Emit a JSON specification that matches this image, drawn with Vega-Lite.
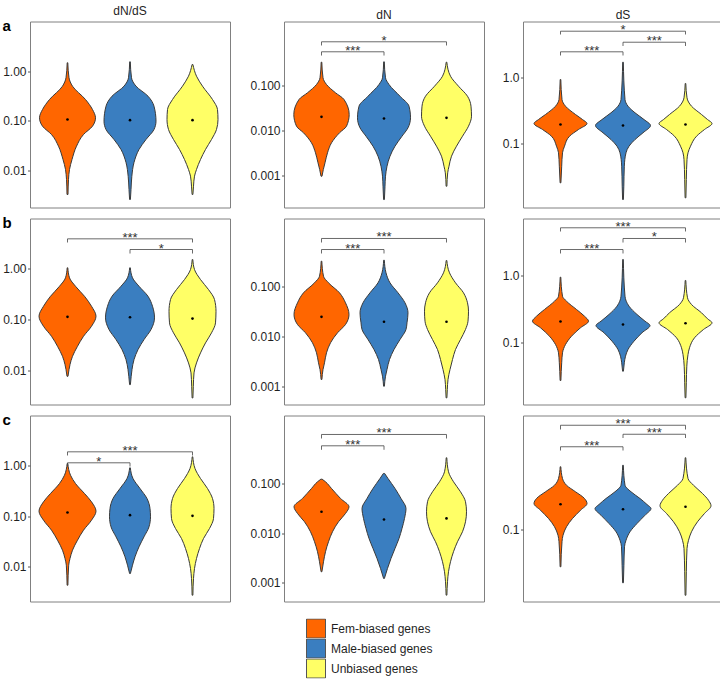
{
"$schema": "https://vega.github.io/schema/vega-lite/v6.json",
"padding": {"left": 1, "top": 4.5, "right": 0, "bottom": 2},
"config": {
  "font": "Liberation Sans",
  "view": {"stroke": "#808080", "strokeWidth": 1},
  "range": {"category": ["#FF6600", "#3A7EC0", "#FFFF66"]},
  "axis": {"grid": false, "domain": false, "labelFontSize": 12, "labelColor": "#1f1f1f", "tickColor": "#555555", "tickSize": 2.5, "tickWidth": 1, "labelPadding": 1.5},
  "title": {"fontSize": 12, "fontWeight": "normal", "color": "#1f1f1f", "offset": 0, "baseline": "alphabetic"},
  "legend": {"orient": "bottom", "direction": "vertical", "symbolType": "square", "symbolSize": 361, "symbolStrokeColor": "#555555", "symbolStrokeWidth": 1, "symbolOffset": 14, "labelFontSize": 12, "labelColor": "#1f1f1f", "labelOffset": 5, "rowPadding": 0, "clipHeight": 20, "offset": 16, "layout": {"bottom": {"anchor": "middle"}}}
},
"datasets": {
"violins": [
{"p":"a1","k":1,"g":"Fem-biased genes","v":1.479,"w":0.01},{"p":"a1","k":1,"g":"Fem-biased genes","v":0.736,"w":0.048},{"p":"a1","k":1,"g":"Fem-biased genes","v":0.498,"w":0.16},{"p":"a1","k":1,"g":"Fem-biased genes","v":0.268,"w":0.576},{"p":"a1","k":1,"g":"Fem-biased genes","v":0.168,"w":0.8},{"p":"a1","k":1,"g":"Fem-biased genes","v":0.1146,"w":0.896},{"p":"a1","k":1,"g":"Fem-biased genes","v":0.0774,"w":0.8},{"p":"a1","k":1,"g":"Fem-biased genes","v":0.0526,"w":0.512},{"p":"a1","k":1,"g":"Fem-biased genes","v":0.0305,"w":0.288},{"p":"a1","k":1,"g":"Fem-biased genes","v":0.01644,"w":0.144},{"p":"a1","k":1,"g":"Fem-biased genes","v":0.01033,"w":0.064},{"p":"a1","k":1,"g":"Fem-biased genes","v":0.00649,"w":0.032},{"p":"a1","k":1,"g":"Fem-biased genes","v":0.00323,"w":0.016},
{"p":"a1","k":2,"g":"Male-biased genes","v":1.549,"w":0.01},{"p":"a1","k":2,"g":"Male-biased genes","v":0.736,"w":0.048},{"p":"a1","k":2,"g":"Male-biased genes","v":0.498,"w":0.192},{"p":"a1","k":2,"g":"Male-biased genes","v":0.3126,"w":0.576},{"p":"a1","k":2,"g":"Male-biased genes","v":0.1963,"w":0.768},{"p":"a1","k":2,"g":"Male-biased genes","v":0.0977,"w":0.832},{"p":"a1","k":2,"g":"Male-biased genes","v":0.0664,"w":0.768},{"p":"a1","k":2,"g":"Male-biased genes","v":0.0417,"w":0.512},{"p":"a1","k":2,"g":"Male-biased genes","v":0.0262,"w":0.288},{"p":"a1","k":2,"g":"Male-biased genes","v":0.01432,"w":0.128},{"p":"a1","k":2,"g":"Male-biased genes","v":0.00746,"w":0.058},{"p":"a1","k":2,"g":"Male-biased genes","v":0.00407,"w":0.032},{"p":"a1","k":2,"g":"Male-biased genes","v":0.00256,"w":0.013},
{"p":"a1","k":3,"g":"Unbiased genes","v":1.365,"w":0.013},{"p":"a1","k":3,"g":"Unbiased genes","v":0.7925,"w":0.128},{"p":"a1","k":3,"g":"Unbiased genes","v":0.498,"w":0.32},{"p":"a1","k":3,"g":"Unbiased genes","v":0.268,"w":0.64},{"p":"a1","k":3,"g":"Unbiased genes","v":0.168,"w":0.8},{"p":"a1","k":3,"g":"Unbiased genes","v":0.1057,"w":0.816},{"p":"a1","k":3,"g":"Unbiased genes","v":0.0664,"w":0.768},{"p":"a1","k":3,"g":"Unbiased genes","v":0.0417,"w":0.608},{"p":"a1","k":3,"g":"Unbiased genes","v":0.0262,"w":0.416},{"p":"a1","k":3,"g":"Unbiased genes","v":0.01644,"w":0.256},{"p":"a1","k":3,"g":"Unbiased genes","v":0.01033,"w":0.128},{"p":"a1","k":3,"g":"Unbiased genes","v":0.00757,"w":0.064},{"p":"a1","k":3,"g":"Unbiased genes","v":0.00475,"w":0.032},{"p":"a1","k":3,"g":"Unbiased genes","v":0.00323,"w":0.013},

{"p":"a2","k":1,"g":"Fem-biased genes","v":0.3296,"w":0.01},{"p":"a2","k":1,"g":"Fem-biased genes","v":0.1483,"w":0.048},{"p":"a2","k":1,"g":"Fem-biased genes","v":0.1052,"w":0.16},{"p":"a2","k":1,"g":"Fem-biased genes","v":0.0689,"w":0.448},{"p":"a2","k":1,"g":"Fem-biased genes","v":0.0489,"w":0.72},{"p":"a2","k":1,"g":"Fem-biased genes","v":0.02265,"w":0.886},{"p":"a2","k":1,"g":"Fem-biased genes","v":0.01245,"w":0.8},{"p":"a2","k":1,"g":"Fem-biased genes","v":0.00889,"w":0.576},{"p":"a2","k":1,"g":"Fem-biased genes","v":0.00532,"w":0.32},{"p":"a2","k":1,"g":"Fem-biased genes","v":0.00319,"w":0.192},{"p":"a2","k":1,"g":"Fem-biased genes","v":0.001914,"w":0.112},{"p":"a2","k":1,"g":"Fem-biased genes","v":0.001358,"w":0.058},{"p":"a2","k":1,"g":"Fem-biased genes","v":0.000964,"w":0.016},
{"p":"a2","k":2,"g":"Male-biased genes","v":0.3357,"w":0.01},{"p":"a2","k":2,"g":"Male-biased genes","v":0.1483,"w":0.048},{"p":"a2","k":2,"g":"Male-biased genes","v":0.1052,"w":0.16},{"p":"a2","k":2,"g":"Male-biased genes","v":0.0578,"w":0.512},{"p":"a2","k":2,"g":"Male-biased genes","v":0.03467,"w":0.8},{"p":"a2","k":2,"g":"Male-biased genes","v":0.01914,"w":0.848},{"p":"a2","k":2,"g":"Male-biased genes","v":0.01148,"w":0.768},{"p":"a2","k":2,"g":"Male-biased genes","v":0.00746,"w":0.576},{"p":"a2","k":2,"g":"Male-biased genes","v":0.00448,"w":0.352},{"p":"a2","k":2,"g":"Male-biased genes","v":0.002685,"w":0.192},{"p":"a2","k":2,"g":"Male-biased genes","v":0.001607,"w":0.096},{"p":"a2","k":2,"g":"Male-biased genes","v":0.000964,"w":0.048},{"p":"a2","k":2,"g":"Male-biased genes","v":0.000578,"w":0.032},{"p":"a2","k":2,"g":"Male-biased genes","v":0.0002924,"w":0.013},
{"p":"a2","k":3,"g":"Unbiased genes","v":0.3296,"w":0.01},{"p":"a2","k":3,"g":"Unbiased genes","v":0.1607,"w":0.128},{"p":"a2","k":3,"g":"Unbiased genes","v":0.0964,"w":0.384},{"p":"a2","k":3,"g":"Unbiased genes","v":0.0578,"w":0.672},{"p":"a2","k":3,"g":"Unbiased genes","v":0.03467,"w":0.784},{"p":"a2","k":3,"g":"Unbiased genes","v":0.0208,"w":0.8},{"p":"a2","k":3,"g":"Unbiased genes","v":0.01245,"w":0.704},{"p":"a2","k":3,"g":"Unbiased genes","v":0.00746,"w":0.512},{"p":"a2","k":3,"g":"Unbiased genes","v":0.00448,"w":0.32},{"p":"a2","k":3,"g":"Unbiased genes","v":0.002685,"w":0.16},{"p":"a2","k":3,"g":"Unbiased genes","v":0.001607,"w":0.08},{"p":"a2","k":3,"g":"Unbiased genes","v":0.001148,"w":0.038},{"p":"a2","k":3,"g":"Unbiased genes","v":0.000578,"w":0.013},

{"p":"a3","k":1,"g":"Fem-biased genes","v":0.942,"w":0.01},{"p":"a3","k":1,"g":"Fem-biased genes","v":0.4688,"w":0.048},{"p":"a3","k":1,"g":"Fem-biased genes","v":0.3715,"w":0.16},{"p":"a3","k":1,"g":"Fem-biased genes","v":0.278,"w":0.48},{"p":"a3","k":1,"g":"Fem-biased genes","v":0.2333,"w":0.704},{"p":"a3","k":1,"g":"Fem-biased genes","v":0.2032,"w":0.848},{"p":"a3","k":1,"g":"Fem-biased genes","v":0.1648,"w":0.576},{"p":"a3","k":1,"g":"Fem-biased genes","v":0.1303,"w":0.288},{"p":"a3","k":1,"g":"Fem-biased genes","v":0.092,"w":0.128},{"p":"a3","k":1,"g":"Fem-biased genes","v":0.0731,"w":0.064},{"p":"a3","k":1,"g":"Fem-biased genes","v":0.0458,"w":0.038},{"p":"a3","k":1,"g":"Fem-biased genes","v":0.02564,"w":0.013},
{"p":"a3","k":2,"g":"Male-biased genes","v":1.722,"w":0.01},{"p":"a3","k":2,"g":"Male-biased genes","v":0.4688,"w":0.064},{"p":"a3","k":2,"g":"Male-biased genes","v":0.3715,"w":0.16},{"p":"a3","k":2,"g":"Male-biased genes","v":0.2951,"w":0.384},{"p":"a3","k":2,"g":"Male-biased genes","v":0.2333,"w":0.672},{"p":"a3","k":2,"g":"Male-biased genes","v":0.1892,"w":0.88},{"p":"a3","k":2,"g":"Male-biased genes","v":0.1469,"w":0.64},{"p":"a3","k":2,"g":"Male-biased genes","v":0.1161,"w":0.384},{"p":"a3","k":2,"g":"Male-biased genes","v":0.092,"w":0.192},{"p":"a3","k":2,"g":"Male-biased genes","v":0.0731,"w":0.096},{"p":"a3","k":2,"g":"Male-biased genes","v":0.0458,"w":0.042},{"p":"a3","k":2,"g":"Male-biased genes","v":0.0228,"w":0.026},{"p":"a3","k":2,"g":"Male-biased genes","v":0.01432,"w":0.013},
{"p":"a3","k":3,"g":"Unbiased genes","v":0.8204,"w":0.01},{"p":"a3","k":3,"g":"Unbiased genes","v":0.4977,"w":0.048},{"p":"a3","k":3,"g":"Unbiased genes","v":0.3715,"w":0.192},{"p":"a3","k":3,"g":"Unbiased genes","v":0.278,"w":0.512},{"p":"a3","k":3,"g":"Unbiased genes","v":0.2333,"w":0.704},{"p":"a3","k":3,"g":"Unbiased genes","v":0.2032,"w":0.848},{"p":"a3","k":3,"g":"Unbiased genes","v":0.1648,"w":0.608},{"p":"a3","k":3,"g":"Unbiased genes","v":0.1303,"w":0.352},{"p":"a3","k":3,"g":"Unbiased genes","v":0.092,"w":0.16},{"p":"a3","k":3,"g":"Unbiased genes","v":0.0731,"w":0.08},{"p":"a3","k":3,"g":"Unbiased genes","v":0.0578,"w":0.048},{"p":"a3","k":3,"g":"Unbiased genes","v":0.02877,"w":0.026},{"p":"a3","k":3,"g":"Unbiased genes","v":0.0152,"w":0.013},

{"p":"b1","k":1,"g":"Fem-biased genes","v":1.033,"w":0.01},{"p":"b1","k":1,"g":"Fem-biased genes","v":0.656,"w":0.064},{"p":"b1","k":1,"g":"Fem-biased genes","v":0.4477,"w":0.256},{"p":"b1","k":1,"g":"Fem-biased genes","v":0.2844,"w":0.544},{"p":"b1","k":1,"g":"Fem-biased genes","v":0.1811,"w":0.768},{"p":"b1","k":1,"g":"Fem-biased genes","v":0.1151,"w":0.912},{"p":"b1","k":1,"g":"Fem-biased genes","v":0.0731,"w":0.768},{"p":"b1","k":1,"g":"Fem-biased genes","v":0.04645,"w":0.512},{"p":"b1","k":1,"g":"Fem-biased genes","v":0.02951,"w":0.32},{"p":"b1","k":1,"g":"Fem-biased genes","v":0.01875,"w":0.16},{"p":"b1","k":1,"g":"Fem-biased genes","v":0.01288,"w":0.08},{"p":"b1","k":1,"g":"Fem-biased genes","v":0.01028,"w":0.048},{"p":"b1","k":1,"g":"Fem-biased genes","v":0.00759,"w":0.016},
{"p":"b1","k":2,"g":"Male-biased genes","v":1.033,"w":0.01},{"p":"b1","k":2,"g":"Male-biased genes","v":0.656,"w":0.08},{"p":"b1","k":2,"g":"Male-biased genes","v":0.4477,"w":0.288},{"p":"b1","k":2,"g":"Male-biased genes","v":0.2844,"w":0.576},{"p":"b1","k":2,"g":"Male-biased genes","v":0.1811,"w":0.72},{"p":"b1","k":2,"g":"Male-biased genes","v":0.1069,"w":0.784},{"p":"b1","k":2,"g":"Male-biased genes","v":0.063,"w":0.672},{"p":"b1","k":2,"g":"Male-biased genes","v":0.04,"w":0.448},{"p":"b1","k":2,"g":"Male-biased genes","v":0.02541,"w":0.256},{"p":"b1","k":2,"g":"Male-biased genes","v":0.01614,"w":0.128},{"p":"b1","k":2,"g":"Male-biased genes","v":0.01028,"w":0.064},{"p":"b1","k":2,"g":"Male-biased genes","v":0.00759,"w":0.038},{"p":"b1","k":2,"g":"Male-biased genes","v":0.0052,"w":0.013},
{"p":"b1","k":3,"g":"Unbiased genes","v":1.503,"w":0.01},{"p":"b1","k":3,"g":"Unbiased genes","v":0.955,"w":0.064},{"p":"b1","k":3,"g":"Unbiased genes","v":0.6067,"w":0.256},{"p":"b1","k":3,"g":"Unbiased genes","v":0.3855,"w":0.512},{"p":"b1","k":3,"g":"Unbiased genes","v":0.2455,"w":0.704},{"p":"b1","k":3,"g":"Unbiased genes","v":0.1442,"w":0.752},{"p":"b1","k":3,"g":"Unbiased genes","v":0.0853,"w":0.736},{"p":"b1","k":3,"g":"Unbiased genes","v":0.0542,"w":0.608},{"p":"b1","k":3,"g":"Unbiased genes","v":0.03443,"w":0.416},{"p":"b1","k":3,"g":"Unbiased genes","v":0.02188,"w":0.256},{"p":"b1","k":3,"g":"Unbiased genes","v":0.0139,"w":0.128},{"p":"b1","k":3,"g":"Unbiased genes","v":0.00885,"w":0.048},{"p":"b1","k":3,"g":"Unbiased genes","v":0.00482,"w":0.026},{"p":"b1","k":3,"g":"Unbiased genes","v":0.002844,"w":0.013},

{"p":"b2","k":1,"g":"Fem-biased genes","v":0.3273,"w":0.01},{"p":"b2","k":1,"g":"Fem-biased genes","v":0.1633,"w":0.064},{"p":"b2","k":1,"g":"Fem-biased genes","v":0.1202,"w":0.224},{"p":"b2","k":1,"g":"Fem-biased genes","v":0.0757,"w":0.576},{"p":"b2","k":1,"g":"Fem-biased genes","v":0.04764,"w":0.768},{"p":"b2","k":1,"g":"Fem-biased genes","v":0.02767,"w":0.88},{"p":"b2","k":1,"g":"Fem-biased genes","v":0.01742,"w":0.768},{"p":"b2","k":1,"g":"Fem-biased genes","v":0.01186,"w":0.512},{"p":"b2","k":1,"g":"Fem-biased genes","v":0.00746,"w":0.288},{"p":"b2","k":1,"g":"Fem-biased genes","v":0.0047,"w":0.16},{"p":"b2","k":1,"g":"Fem-biased genes","v":0.002958,"w":0.096},{"p":"b2","k":1,"g":"Fem-biased genes","v":0.002168,"w":0.048},{"p":"b2","k":1,"g":"Fem-biased genes","v":0.001365,"w":0.013},
{"p":"b2","k":2,"g":"Male-biased genes","v":0.3428,"w":0.01},{"p":"b2","k":2,"g":"Male-biased genes","v":0.191,"w":0.064},{"p":"b2","k":2,"g":"Male-biased genes","v":0.1202,"w":0.192},{"p":"b2","k":2,"g":"Male-biased genes","v":0.0757,"w":0.448},{"p":"b2","k":2,"g":"Male-biased genes","v":0.04764,"w":0.672},{"p":"b2","k":2,"g":"Male-biased genes","v":0.03,"w":0.768},{"p":"b2","k":2,"g":"Male-biased genes","v":0.01884,"w":0.736},{"p":"b2","k":2,"g":"Male-biased genes","v":0.01384,"w":0.704},{"p":"b2","k":2,"g":"Male-biased genes","v":0.00869,"w":0.512},{"p":"b2","k":2,"g":"Male-biased genes","v":0.00547,"w":0.32},{"p":"b2","k":2,"g":"Male-biased genes","v":0.003443,"w":0.176},{"p":"b2","k":2,"g":"Male-biased genes","v":0.002168,"w":0.096},{"p":"b2","k":2,"g":"Male-biased genes","v":0.001589,"w":0.048},{"p":"b2","k":2,"g":"Male-biased genes","v":0.001,"w":0.013},
{"p":"b2","k":3,"g":"Unbiased genes","v":0.3381,"w":0.01},{"p":"b2","k":3,"g":"Unbiased genes","v":0.191,"w":0.096},{"p":"b2","k":3,"g":"Unbiased genes","v":0.1202,"w":0.288},{"p":"b2","k":3,"g":"Unbiased genes","v":0.0757,"w":0.544},{"p":"b2","k":3,"g":"Unbiased genes","v":0.04764,"w":0.672},{"p":"b2","k":3,"g":"Unbiased genes","v":0.03228,"w":0.704},{"p":"b2","k":3,"g":"Unbiased genes","v":0.02032,"w":0.688},{"p":"b2","k":3,"g":"Unbiased genes","v":0.01384,"w":0.608},{"p":"b2","k":3,"g":"Unbiased genes","v":0.00869,"w":0.448},{"p":"b2","k":3,"g":"Unbiased genes","v":0.00547,"w":0.288},{"p":"b2","k":3,"g":"Unbiased genes","v":0.003443,"w":0.192},{"p":"b2","k":3,"g":"Unbiased genes","v":0.002168,"w":0.112},{"p":"b2","k":3,"g":"Unbiased genes","v":0.001365,"w":0.048},{"p":"b2","k":3,"g":"Unbiased genes","v":0.000857,"w":0.026},{"p":"b2","k":3,"g":"Unbiased genes","v":0.000583,"w":0.013},

{"p":"b3","k":1,"g":"Fem-biased genes","v":0.9441,"w":0.01},{"p":"b3","k":1,"g":"Fem-biased genes","v":0.492,"w":0.064},{"p":"b3","k":1,"g":"Fem-biased genes","v":0.415,"w":0.192},{"p":"b3","k":1,"g":"Fem-biased genes","v":0.3126,"w":0.512},{"p":"b3","k":1,"g":"Fem-biased genes","v":0.2483,"w":0.768},{"p":"b3","k":1,"g":"Fem-biased genes","v":0.2094,"w":0.896},{"p":"b3","k":1,"g":"Fem-biased genes","v":0.1671,"w":0.64},{"p":"b3","k":1,"g":"Fem-biased genes","v":0.1253,"w":0.352},{"p":"b3","k":1,"g":"Fem-biased genes","v":0.0944,"w":0.16},{"p":"b3","k":1,"g":"Fem-biased genes","v":0.071,"w":0.064},{"p":"b3","k":1,"g":"Fem-biased genes","v":0.0505,"w":0.038},{"p":"b3","k":1,"g":"Fem-biased genes","v":0.02754,"w":0.013},
{"p":"b3","k":2,"g":"Male-biased genes","v":1.73,"w":0.01},{"p":"b3","k":2,"g":"Male-biased genes","v":0.492,"w":0.064},{"p":"b3","k":2,"g":"Male-biased genes","v":0.35,"w":0.192},{"p":"b3","k":2,"g":"Male-biased genes","v":0.2636,"w":0.448},{"p":"b3","k":2,"g":"Male-biased genes","v":0.2094,"w":0.704},{"p":"b3","k":2,"g":"Male-biased genes","v":0.1807,"w":0.864},{"p":"b3","k":2,"g":"Male-biased genes","v":0.141,"w":0.608},{"p":"b3","k":2,"g":"Male-biased genes","v":0.1057,"w":0.352},{"p":"b3","k":2,"g":"Male-biased genes","v":0.0794,"w":0.16},{"p":"b3","k":2,"g":"Male-biased genes","v":0.0632,"w":0.08},{"p":"b3","k":2,"g":"Male-biased genes","v":0.0505,"w":0.042},{"p":"b3","k":2,"g":"Male-biased genes","v":0.03784,"w":0.013},
{"p":"b3","k":3,"g":"Unbiased genes","v":0.8433,"w":0.01},{"p":"b3","k":3,"g":"Unbiased genes","v":0.4667,"w":0.064},{"p":"b3","k":3,"g":"Unbiased genes","v":0.3707,"w":0.192},{"p":"b3","k":3,"g":"Unbiased genes","v":0.2793,"w":0.512},{"p":"b3","k":3,"g":"Unbiased genes","v":0.2275,"w":0.704},{"p":"b3","k":3,"g":"Unbiased genes","v":0.1982,"w":0.848},{"p":"b3","k":3,"g":"Unbiased genes","v":0.1578,"w":0.576},{"p":"b3","k":3,"g":"Unbiased genes","v":0.1186,"w":0.288},{"p":"b3","k":3,"g":"Unbiased genes","v":0.0843,"w":0.128},{"p":"b3","k":3,"g":"Unbiased genes","v":0.067,"w":0.08},{"p":"b3","k":3,"g":"Unbiased genes","v":0.04487,"w":0.042},{"p":"b3","k":3,"g":"Unbiased genes","v":0.02547,"w":0.026},{"p":"b3","k":3,"g":"Unbiased genes","v":0.01524,"w":0.013},

{"p":"c1","k":1,"g":"Fem-biased genes","v":1.112,"w":0.01},{"p":"c1","k":1,"g":"Fem-biased genes","v":0.6516,"w":0.096},{"p":"c1","k":1,"g":"Fem-biased genes","v":0.4457,"w":0.256},{"p":"c1","k":1,"g":"Fem-biased genes","v":0.2825,"w":0.544},{"p":"c1","k":1,"g":"Fem-biased genes","v":0.1936,"w":0.768},{"p":"c1","k":1,"g":"Fem-biased genes","v":0.1262,"w":0.912},{"p":"c1","k":1,"g":"Fem-biased genes","v":0.08375,"w":0.768},{"p":"c1","k":1,"g":"Fem-biased genes","v":0.05309,"w":0.512},{"p":"c1","k":1,"g":"Fem-biased genes","v":0.03365,"w":0.32},{"p":"c1","k":1,"g":"Fem-biased genes","v":0.02133,"w":0.16},{"p":"c1","k":1,"g":"Fem-biased genes","v":0.01459,"w":0.08},{"p":"c1","k":1,"g":"Fem-biased genes","v":0.01076,"w":0.038},{"p":"c1","k":1,"g":"Fem-biased genes","v":0.004325,"w":0.013},
{"p":"c1","k":2,"g":"Male-biased genes","v":0.912,"w":0.01},{"p":"c1","k":2,"g":"Male-biased genes","v":0.5598,"w":0.096},{"p":"c1","k":2,"g":"Male-biased genes","v":0.3548,"w":0.32},{"p":"c1","k":2,"g":"Male-biased genes","v":0.2249,"w":0.544},{"p":"c1","k":2,"g":"Male-biased genes","v":0.1426,"w":0.64},{"p":"c1","k":2,"g":"Male-biased genes","v":0.0977,"w":0.656},{"p":"c1","k":2,"g":"Male-biased genes","v":0.06194,"w":0.608},{"p":"c1","k":2,"g":"Male-biased genes","v":0.03926,"w":0.448},{"p":"c1","k":2,"g":"Male-biased genes","v":0.02489,"w":0.288},{"p":"c1","k":2,"g":"Male-biased genes","v":0.01578,"w":0.16},{"p":"c1","k":2,"g":"Male-biased genes","v":0.01076,"w":0.08},{"p":"c1","k":2,"g":"Male-biased genes","v":0.007362,"w":0.013},
{"p":"c1","k":3,"g":"Unbiased genes","v":1.507,"w":0.01},{"p":"c1","k":3,"g":"Unbiased genes","v":0.8831,"w":0.08},{"p":"c1","k":3,"g":"Unbiased genes","v":0.5598,"w":0.256},{"p":"c1","k":3,"g":"Unbiased genes","v":0.3548,"w":0.48},{"p":"c1","k":3,"g":"Unbiased genes","v":0.2249,"w":0.64},{"p":"c1","k":3,"g":"Unbiased genes","v":0.1426,"w":0.688},{"p":"c1","k":3,"g":"Unbiased genes","v":0.09036,"w":0.672},{"p":"c1","k":3,"g":"Unbiased genes","v":0.05728,"w":0.544},{"p":"c1","k":3,"g":"Unbiased genes","v":0.03631,"w":0.352},{"p":"c1","k":3,"g":"Unbiased genes","v":0.02301,"w":0.224},{"p":"c1","k":3,"g":"Unbiased genes","v":0.01459,"w":0.128},{"p":"c1","k":3,"g":"Unbiased genes","v":0.009247,"w":0.064},{"p":"c1","k":3,"g":"Unbiased genes","v":0.005861,"w":0.032},{"p":"c1","k":3,"g":"Unbiased genes","v":0.002742,"w":0.013},

{"p":"c2","k":1,"g":"Fem-biased genes","v":0.1219,"w":0.02},{"p":"c2","k":1,"g":"Fem-biased genes","v":0.1081,"w":0.128},{"p":"c2","k":1,"g":"Fem-biased genes","v":0.07925,"w":0.32},{"p":"c2","k":1,"g":"Fem-biased genes","v":0.04989,"w":0.608},{"p":"c2","k":1,"g":"Fem-biased genes","v":0.03396,"w":0.88},{"p":"c2","k":1,"g":"Fem-biased genes","v":0.02489,"w":0.768},{"p":"c2","k":1,"g":"Fem-biased genes","v":0.01694,"w":0.544},{"p":"c2","k":1,"g":"Fem-biased genes","v":0.01067,"w":0.352},{"p":"c2","k":1,"g":"Fem-biased genes","v":0.006714,"w":0.224},{"p":"c2","k":1,"g":"Fem-biased genes","v":0.004227,"w":0.128},{"p":"c2","k":1,"g":"Fem-biased genes","v":0.002655,"w":0.064},{"p":"c2","k":1,"g":"Fem-biased genes","v":0.001671,"w":0.013},
{"p":"c2","k":2,"g":"Male-biased genes","v":0.1589,"w":0.02},{"p":"c2","k":2,"g":"Male-biased genes","v":0.1259,"w":0.128},{"p":"c2","k":2,"g":"Male-biased genes","v":0.07925,"w":0.352},{"p":"c2","k":2,"g":"Male-biased genes","v":0.04989,"w":0.544},{"p":"c2","k":2,"g":"Male-biased genes","v":0.03141,"w":0.704},{"p":"c2","k":2,"g":"Male-biased genes","v":0.01977,"w":0.656},{"p":"c2","k":2,"g":"Male-biased genes","v":0.01242,"w":0.576},{"p":"c2","k":2,"g":"Male-biased genes","v":0.007816,"w":0.48},{"p":"c2","k":2,"g":"Male-biased genes","v":0.00492,"w":0.352},{"p":"c2","k":2,"g":"Male-biased genes","v":0.003097,"w":0.224},{"p":"c2","k":2,"g":"Male-biased genes","v":0.00195,"w":0.112},{"p":"c2","k":2,"g":"Male-biased genes","v":0.001225,"w":0.013},
{"p":"c2","k":3,"g":"Unbiased genes","v":0.3289,"w":0.01},{"p":"c2","k":3,"g":"Unbiased genes","v":0.1718,"w":0.064},{"p":"c2","k":3,"g":"Unbiased genes","v":0.1081,"w":0.224},{"p":"c2","k":3,"g":"Unbiased genes","v":0.06808,"w":0.448},{"p":"c2","k":3,"g":"Unbiased genes","v":0.04285,"w":0.608},{"p":"c2","k":3,"g":"Unbiased genes","v":0.02692,"w":0.64},{"p":"c2","k":3,"g":"Unbiased genes","v":0.01694,"w":0.608},{"p":"c2","k":3,"g":"Unbiased genes","v":0.01067,"w":0.512},{"p":"c2","k":3,"g":"Unbiased genes","v":0.006714,"w":0.352},{"p":"c2","k":3,"g":"Unbiased genes","v":0.004227,"w":0.224},{"p":"c2","k":3,"g":"Unbiased genes","v":0.002655,"w":0.128},{"p":"c2","k":3,"g":"Unbiased genes","v":0.001671,"w":0.064},{"p":"c2","k":3,"g":"Unbiased genes","v":0.001052,"w":0.032},{"p":"c2","k":3,"g":"Unbiased genes","v":0.000565,"w":0.013},

{"p":"c3","k":1,"g":"Fem-biased genes","v":0.3177,"w":0.01},{"p":"c3","k":1,"g":"Fem-biased genes","v":0.2559,"w":0.064},{"p":"c3","k":1,"g":"Fem-biased genes","v":0.2259,"w":0.192},{"p":"c3","k":1,"g":"Fem-biased genes","v":0.2004,"w":0.48},{"p":"c3","k":1,"g":"Fem-biased genes","v":0.177,"w":0.768},{"p":"c3","k":1,"g":"Fem-biased genes","v":0.1614,"w":0.848},{"p":"c3","k":1,"g":"Fem-biased genes","v":0.1426,"w":0.64},{"p":"c3","k":1,"g":"Fem-biased genes","v":0.1225,"w":0.384},{"p":"c3","k":1,"g":"Fem-biased genes","v":0.1052,"w":0.192},{"p":"c3","k":1,"g":"Fem-biased genes","v":0.08995,"w":0.08},{"p":"c3","k":1,"g":"Fem-biased genes","v":0.0798,"w":0.048},{"p":"c3","k":1,"g":"Fem-biased genes","v":0.05035,"w":0.013},
{"p":"c3","k":2,"g":"Male-biased genes","v":0.3266,"w":0.01},{"p":"c3","k":2,"g":"Male-biased genes","v":0.2259,"w":0.064},{"p":"c3","k":2,"g":"Male-biased genes","v":0.2004,"w":0.256},{"p":"c3","k":2,"g":"Male-biased genes","v":0.177,"w":0.544},{"p":"c3","k":2,"g":"Male-biased genes","v":0.1585,"w":0.768},{"p":"c3","k":2,"g":"Male-biased genes","v":0.1472,"w":0.896},{"p":"c3","k":2,"g":"Male-biased genes","v":0.13,"w":0.704},{"p":"c3","k":2,"g":"Male-biased genes","v":0.1117,"w":0.448},{"p":"c3","k":2,"g":"Male-biased genes","v":0.09594,"w":0.224},{"p":"c3","k":2,"g":"Male-biased genes","v":0.08204,"w":0.096},{"p":"c3","k":2,"g":"Male-biased genes","v":0.07278,"w":0.048},{"p":"c3","k":2,"g":"Male-biased genes","v":0.05176,"w":0.029},{"p":"c3","k":2,"g":"Male-biased genes","v":0.0375,"w":0.013},
{"p":"c3","k":3,"g":"Unbiased genes","v":0.375,"w":0.01},{"p":"c3","k":3,"g":"Unbiased genes","v":0.2559,"w":0.08},{"p":"c3","k":3,"g":"Unbiased genes","v":0.2259,"w":0.256},{"p":"c3","k":3,"g":"Unbiased genes","v":0.1941,"w":0.544},{"p":"c3","k":3,"g":"Unbiased genes","v":0.1714,"w":0.736},{"p":"c3","k":3,"g":"Unbiased genes","v":0.1549,"w":0.816},{"p":"c3","k":3,"g":"Unbiased genes","v":0.1343,"w":0.608},{"p":"c3","k":3,"g":"Unbiased genes","v":0.1153,"w":0.384},{"p":"c3","k":3,"g":"Unbiased genes","v":0.09594,"w":0.192},{"p":"c3","k":3,"g":"Unbiased genes","v":0.08204,"w":0.096},{"p":"c3","k":3,"g":"Unbiased genes","v":0.07047,"w":0.048},{"p":"c3","k":3,"g":"Unbiased genes","v":0.04592,"w":0.026},{"p":"c3","k":3,"g":"Unbiased genes","v":0.02979,"w":0.013}
],
"medians": [
{"p":"a1","k":1,"v":0.1057},{"p":"a1","k":2,"v":0.1023},{"p":"a1","k":3,"v":0.1023},
{"p":"a2","k":1,"v":0.02014},{"p":"a2","k":2,"v":0.01845},{"p":"a2","k":3,"v":0.01914},
{"p":"a3","k":1,"v":0.1959},{"p":"a3","k":2,"v":0.1892},{"p":"a3","k":3,"v":0.1959},
{"p":"b1","k":1,"v":0.1119},{"p":"b1","k":2,"v":0.1099},{"p":"b1","k":3,"v":0.1035},
{"p":"b2","k":1,"v":0.02489},{"p":"b2","k":2,"v":0.01977},{"p":"b2","k":3,"v":0.01977},
{"p":"b3","k":1,"v":0.2075},{"p":"b3","k":2,"v":0.1871},{"p":"b3","k":3,"v":0.1954},
{"p":"c1","k":1,"v":0.1189},{"p":"c1","k":2,"v":0.1052},{"p":"c1","k":3,"v":0.1023},
{"p":"c2","k":1,"v":0.02692},{"p":"c2","k":2,"v":0.01884},{"p":"c2","k":3,"v":0.01977},
{"p":"c3","k":1,"v":0.1592},{"p":"c3","k":2,"v":0.1452},{"p":"c3","k":3,"v":0.1521}
],
"brackets": [
{"p":"a2","b":1,"o":1,"x":1,"v":0.7745},{"p":"a2","b":1,"o":2,"x":1,"v":0.9354},{"p":"a2","b":1,"o":3,"x":3,"v":0.9354},{"p":"a2","b":1,"o":4,"x":3,"v":0.7745},
{"p":"a2","b":2,"o":1,"x":1,"v":0.4634},{"p":"a2","b":2,"o":2,"x":1,"v":0.561},{"p":"a2","b":2,"o":3,"x":2,"v":0.561},{"p":"a2","b":2,"o":4,"x":2,"v":0.4634},
{"p":"a3","b":1,"o":1,"x":1,"v":4.529},{"p":"a3","b":1,"o":2,"x":1,"v":5.08},{"p":"a3","b":1,"o":3,"x":3,"v":5.08},{"p":"a3","b":1,"o":4,"x":3,"v":4.529},
{"p":"a3","b":2,"o":1,"x":2,"v":3.034},{"p":"a3","b":2,"o":2,"x":2,"v":3.459},{"p":"a3","b":2,"o":3,"x":3,"v":3.459},{"p":"a3","b":2,"o":4,"x":3,"v":3.034},
{"p":"a3","b":3,"o":1,"x":1,"v":2.178},{"p":"a3","b":3,"o":2,"x":1,"v":2.477},{"p":"a3","b":3,"o":3,"x":2,"v":2.477},{"p":"a3","b":3,"o":4,"x":2,"v":2.178},
{"p":"b1","b":1,"o":1,"x":1,"v":3.251},{"p":"b1","b":1,"o":2,"x":1,"v":3.837},{"p":"b1","b":1,"o":3,"x":3,"v":3.837},{"p":"b1","b":1,"o":4,"x":3,"v":3.251},
{"p":"b1","b":2,"o":1,"x":2,"v":1.972},{"p":"b1","b":2,"o":2,"x":2,"v":2.366},{"p":"b1","b":2,"o":3,"x":3,"v":2.366},{"p":"b1","b":2,"o":4,"x":3,"v":1.972},
{"p":"b2","b":1,"o":1,"x":1,"v":0.778},{"p":"b2","b":1,"o":2,"x":1,"v":0.9376},{"p":"b2","b":1,"o":3,"x":3,"v":0.9376},{"p":"b2","b":1,"o":4,"x":3,"v":0.778},
{"p":"b2","b":2,"o":1,"x":1,"v":0.4677},{"p":"b2","b":2,"o":2,"x":1,"v":0.5623},{"p":"b2","b":2,"o":3,"x":2,"v":0.5623},{"p":"b2","b":2,"o":4,"x":2,"v":0.4677},
{"p":"b3","b":1,"o":1,"x":1,"v":4.508},{"p":"b3","b":1,"o":2,"x":1,"v":5.117},{"p":"b3","b":1,"o":3,"x":3,"v":5.117},{"p":"b3","b":1,"o":4,"x":3,"v":4.508},
{"p":"b3","b":2,"o":1,"x":2,"v":3.09},{"p":"b3","b":2,"o":2,"x":2,"v":3.548},{"p":"b3","b":2,"o":3,"x":3,"v":3.548},{"p":"b3","b":2,"o":4,"x":3,"v":3.09},
{"p":"b3","b":3,"o":1,"x":1,"v":2.123},{"p":"b3","b":3,"o":2,"x":1,"v":2.432},{"p":"b3","b":3,"o":3,"x":2,"v":2.432},{"p":"b3","b":3,"o":4,"x":2,"v":2.123},
{"p":"c1","b":1,"o":1,"x":1,"v":1.6},{"p":"c1","b":1,"o":2,"x":1,"v":1.892},{"p":"c1","b":1,"o":3,"x":3,"v":1.892},{"p":"c1","b":1,"o":4,"x":3,"v":1.6},
{"p":"c1","b":2,"o":1,"x":1,"v":0.9683},{"p":"c1","b":2,"o":2,"x":1,"v":1.146},{"p":"c1","b":2,"o":3,"x":2,"v":1.146},{"p":"c1","b":2,"o":4,"x":2,"v":0.9683},
{"p":"c2","b":1,"o":1,"x":1,"v":0.8035},{"p":"c2","b":1,"o":2,"x":1,"v":0.9683},{"p":"c2","b":1,"o":3,"x":3,"v":0.9683},{"p":"c2","b":1,"o":4,"x":3,"v":0.8035},
{"p":"c2","b":2,"o":1,"x":1,"v":0.4764},{"p":"c2","b":2,"o":2,"x":1,"v":0.5728},{"p":"c2","b":2,"o":3,"x":2,"v":0.5728},{"p":"c2","b":2,"o":4,"x":2,"v":0.4764},
{"p":"c3","b":1,"o":1,"x":1,"v":0.631},{"p":"c3","b":1,"o":2,"x":1,"v":0.6823},{"p":"c3","b":1,"o":3,"x":3,"v":0.6823},{"p":"c3","b":1,"o":4,"x":3,"v":0.631},
{"p":"c3","b":2,"o":1,"x":2,"v":0.5395},{"p":"c3","b":2,"o":2,"x":2,"v":0.578},{"p":"c3","b":2,"o":3,"x":3,"v":0.578},{"p":"c3","b":2,"o":4,"x":3,"v":0.5395},
{"p":"c3","b":3,"o":1,"x":1,"v":0.4285},{"p":"c3","b":3,"o":2,"x":1,"v":0.4592},{"p":"c3","b":3,"o":3,"x":2,"v":0.4592},{"p":"c3","b":3,"o":4,"x":2,"v":0.4285}
],
"stars": [
{"p":"a2","x":2,"v":0.9354,"s":"*"},{"p":"a2","x":1.5,"v":0.561,"s":"***"},
{"p":"a3","x":2,"v":5.08,"s":"*"},{"p":"a3","x":2.5,"v":3.459,"s":"***"},{"p":"a3","x":1.5,"v":2.477,"s":"***"},
{"p":"b1","x":2,"v":3.837,"s":"***"},{"p":"b1","x":2.5,"v":2.366,"s":"*"},
{"p":"b2","x":2,"v":0.9376,"s":"***"},{"p":"b2","x":1.5,"v":0.5623,"s":"***"},
{"p":"b3","x":2,"v":5.117,"s":"***"},{"p":"b3","x":2.5,"v":3.548,"s":"*"},{"p":"b3","x":1.5,"v":2.432,"s":"***"},
{"p":"c1","x":2,"v":1.892,"s":"***"},{"p":"c1","x":1.5,"v":1.146,"s":"*"},
{"p":"c2","x":2,"v":0.9683,"s":"***"},{"p":"c2","x":1.5,"v":0.5728,"s":"***"},
{"p":"c3","x":2,"v":0.6823,"s":"***"},{"p":"c3","x":2.5,"v":0.578,"s":"***"},{"p":"c3","x":1.5,"v":0.4592,"s":"***"}
]
},
"spacing": 6,
"vconcat": [
{"spacing": 10, "hconcat": [
 {"width": 200, "height": 186, "title": {"text": "dN/dS", "offset": 0},
  "encoding": {"y": {"field": "v", "type": "quantitative", "scale": {"type": "log", "domain": [0.001762, 10.09], "nice": false}, "axis": {"values": [0.01, 0.1, 1], "format": ".2f", "title": "a", "titleAngle": 0, "titleX": -28, "titleY": 8.5, "titleAlign": "left", "titleBaseline": "alphabetic", "titleFontSize": 15, "titleFontWeight": "bold", "titleColor": "#000000", "minExtent": 28, "maxExtent": 28}}},
  "layer": [
   {"data": {"name": "violins"}, "transform": [{"filter": "datum.p == 'a1' && datum.k == 1"}], "mark": {"type": "area", "orient": "horizontal", "interpolate": "monotone", "stroke": "#3a3a3a", "strokeWidth": 1, "fillOpacity": 1}, "encoding": {"x": {"field": "w", "type": "quantitative", "stack": "center", "impute": null, "scale": {"domain": [-0.152, 3.048], "nice": false, "zero": false}, "axis": null}, "color": {"field": "g", "type": "nominal", "legend": {"title": null}}}},
   {"data": {"name": "violins"}, "transform": [{"filter": "datum.p == 'a1' && datum.k == 2"}], "mark": {"type": "area", "orient": "horizontal", "interpolate": "monotone", "stroke": "#3a3a3a", "strokeWidth": 1, "fillOpacity": 1}, "encoding": {"x": {"field": "w", "type": "quantitative", "stack": "center", "impute": null, "scale": {"domain": [-1.184, 2.016], "nice": false, "zero": false}, "axis": null}, "color": {"field": "g", "type": "nominal", "legend": {"title": null}}}},
   {"data": {"name": "violins"}, "transform": [{"filter": "datum.p == 'a1' && datum.k == 3"}], "mark": {"type": "area", "orient": "horizontal", "interpolate": "monotone", "stroke": "#3a3a3a", "strokeWidth": 1, "fillOpacity": 1}, "encoding": {"x": {"field": "w", "type": "quantitative", "stack": "center", "impute": null, "scale": {"domain": [-2.192, 1.008], "nice": false, "zero": false}, "axis": null}, "color": {"field": "g", "type": "nominal", "legend": {"title": null}}}},
   {"data": {"name": "medians"}, "transform": [{"filter": "datum.p == 'a1'"}], "mark": {"type": "point", "filled": true, "color": "#000000", "size": 7, "opacity": 1}, "encoding": {"x": {"field": "k", "type": "quantitative", "scale": {"domain": [0.4, 3.6], "nice": false, "zero": false}, "axis": null}}}
  ],
  "resolve": {"scale": {"x": "independent"}}},
 {"width": 200, "height": 186, "title": {"text": "dN", "offset": 0},
  "encoding": {"y": {"field": "v", "type": "quantitative", "scale": {"type": "log", "domain": [0.0001945, 2.642], "nice": false}, "axis": {"values": [0.001, 0.01, 0.1], "format": ".3f", "title": null, "minExtent": 42, "maxExtent": 42}}},
  "layer": [
   {"data": {"name": "violins"}, "transform": [{"filter": "datum.p == 'a2' && datum.k == 1"}], "mark": {"type": "area", "orient": "horizontal", "interpolate": "monotone", "stroke": "#3a3a3a", "strokeWidth": 1, "fillOpacity": 1}, "encoding": {"x": {"field": "w", "type": "quantitative", "stack": "center", "impute": null, "scale": {"domain": [-0.157, 3.043], "nice": false, "zero": false}, "axis": null}, "color": {"field": "g", "type": "nominal", "legend": {"title": null}}}},
   {"data": {"name": "violins"}, "transform": [{"filter": "datum.p == 'a2' && datum.k == 2"}], "mark": {"type": "area", "orient": "horizontal", "interpolate": "monotone", "stroke": "#3a3a3a", "strokeWidth": 1, "fillOpacity": 1}, "encoding": {"x": {"field": "w", "type": "quantitative", "stack": "center", "impute": null, "scale": {"domain": [-1.176, 2.024], "nice": false, "zero": false}, "axis": null}, "color": {"field": "g", "type": "nominal", "legend": {"title": null}}}},
   {"data": {"name": "violins"}, "transform": [{"filter": "datum.p == 'a2' && datum.k == 3"}], "mark": {"type": "area", "orient": "horizontal", "interpolate": "monotone", "stroke": "#3a3a3a", "strokeWidth": 1, "fillOpacity": 1}, "encoding": {"x": {"field": "w", "type": "quantitative", "stack": "center", "impute": null, "scale": {"domain": [-2.2, 1.0], "nice": false, "zero": false}, "axis": null}, "color": {"field": "g", "type": "nominal", "legend": {"title": null}}}},
   {"data": {"name": "medians"}, "transform": [{"filter": "datum.p == 'a2'"}], "mark": {"type": "point", "filled": true, "color": "#000000", "size": 7, "opacity": 1}, "encoding": {"x": {"field": "k", "type": "quantitative", "scale": {"domain": [0.4, 3.6], "nice": false, "zero": false}, "axis": null}}},
   {"data": {"name": "brackets"}, "transform": [{"filter": "datum.p == 'a2'"}], "mark": {"type": "line", "color": "#444444", "strokeWidth": 0.8}, "encoding": {"x": {"field": "x", "type": "quantitative", "scale": {"domain": [0.4, 3.6], "nice": false, "zero": false}, "axis": null}, "detail": {"field": "b", "type": "nominal"}, "order": {"field": "o", "type": "quantitative"}}},
   {"data": {"name": "stars"}, "transform": [{"filter": "datum.p == 'a2'"}], "mark": {"type": "text", "fontSize": 13, "color": "#333333", "baseline": "alphabetic", "dy": 3}, "encoding": {"x": {"field": "x", "type": "quantitative", "scale": {"domain": [0.4, 3.6], "nice": false, "zero": false}, "axis": null}, "text": {"field": "s"}}}
  ],
  "resolve": {"scale": {"x": "independent"}}},
 {"width": 200, "height": 186, "title": {"text": "dS", "offset": 0},
  "encoding": {"y": {"field": "v", "type": "quantitative", "scale": {"type": "log", "domain": [0.01084, 7.129], "nice": false}, "axis": {"values": [0.1, 1], "format": ".1f", "title": null, "minExtent": 27, "maxExtent": 27}}},
  "layer": [
   {"data": {"name": "violins"}, "transform": [{"filter": "datum.p == 'a3' && datum.k == 1"}], "mark": {"type": "area", "orient": "horizontal", "interpolate": "monotone", "stroke": "#3a3a3a", "strokeWidth": 1, "fillOpacity": 1}, "encoding": {"x": {"field": "w", "type": "quantitative", "stack": "center", "impute": null, "scale": {"domain": [-0.176, 3.024], "nice": false, "zero": false}, "axis": null}, "color": {"field": "g", "type": "nominal", "legend": {"title": null}}}},
   {"data": {"name": "violins"}, "transform": [{"filter": "datum.p == 'a3' && datum.k == 2"}], "mark": {"type": "area", "orient": "horizontal", "interpolate": "monotone", "stroke": "#3a3a3a", "strokeWidth": 1, "fillOpacity": 1}, "encoding": {"x": {"field": "w", "type": "quantitative", "stack": "center", "impute": null, "scale": {"domain": [-1.16, 2.04], "nice": false, "zero": false}, "axis": null}, "color": {"field": "g", "type": "nominal", "legend": {"title": null}}}},
   {"data": {"name": "violins"}, "transform": [{"filter": "datum.p == 'a3' && datum.k == 3"}], "mark": {"type": "area", "orient": "horizontal", "interpolate": "monotone", "stroke": "#3a3a3a", "strokeWidth": 1, "fillOpacity": 1}, "encoding": {"x": {"field": "w", "type": "quantitative", "stack": "center", "impute": null, "scale": {"domain": [-2.176, 1.024], "nice": false, "zero": false}, "axis": null}, "color": {"field": "g", "type": "nominal", "legend": {"title": null}}}},
   {"data": {"name": "medians"}, "transform": [{"filter": "datum.p == 'a3'"}], "mark": {"type": "point", "filled": true, "color": "#000000", "size": 7, "opacity": 1}, "encoding": {"x": {"field": "k", "type": "quantitative", "scale": {"domain": [0.4, 3.6], "nice": false, "zero": false}, "axis": null}}},
   {"data": {"name": "brackets"}, "transform": [{"filter": "datum.p == 'a3'"}], "mark": {"type": "line", "color": "#444444", "strokeWidth": 0.8}, "encoding": {"x": {"field": "x", "type": "quantitative", "scale": {"domain": [0.4, 3.6], "nice": false, "zero": false}, "axis": null}, "detail": {"field": "b", "type": "nominal"}, "order": {"field": "o", "type": "quantitative"}}},
   {"data": {"name": "stars"}, "transform": [{"filter": "datum.p == 'a3'"}], "mark": {"type": "text", "fontSize": 13, "color": "#333333", "baseline": "alphabetic", "dy": 3}, "encoding": {"x": {"field": "x", "type": "quantitative", "scale": {"domain": [0.4, 3.6], "nice": false, "zero": false}, "axis": null}, "text": {"field": "s"}}}
  ],
  "resolve": {"scale": {"x": "independent"}}}
]},
{"spacing": 10, "hconcat": [
 {"width": 200, "height": 186,
  "encoding": {"y": {"field": "v", "type": "quantitative", "scale": {"type": "log", "domain": [0.002113, 9.638], "nice": false}, "axis": {"values": [0.01, 0.1, 1], "format": ".2f", "title": "b", "titleAngle": 0, "titleX": -28, "titleY": 8.5, "titleAlign": "left", "titleBaseline": "alphabetic", "titleFontSize": 15, "titleFontWeight": "bold", "titleColor": "#000000", "minExtent": 28, "maxExtent": 28}}},
  "layer": [
   {"data": {"name": "violins"}, "transform": [{"filter": "datum.p == 'b1' && datum.k == 1"}], "mark": {"type": "area", "orient": "horizontal", "interpolate": "monotone", "stroke": "#3a3a3a", "strokeWidth": 1, "fillOpacity": 1}, "encoding": {"x": {"field": "w", "type": "quantitative", "stack": "center", "impute": null, "scale": {"domain": [-0.144, 3.056], "nice": false, "zero": false}, "axis": null}, "color": {"field": "g", "type": "nominal", "legend": {"title": null}}}},
   {"data": {"name": "violins"}, "transform": [{"filter": "datum.p == 'b1' && datum.k == 2"}], "mark": {"type": "area", "orient": "horizontal", "interpolate": "monotone", "stroke": "#3a3a3a", "strokeWidth": 1, "fillOpacity": 1}, "encoding": {"x": {"field": "w", "type": "quantitative", "stack": "center", "impute": null, "scale": {"domain": [-1.208, 1.992], "nice": false, "zero": false}, "axis": null}, "color": {"field": "g", "type": "nominal", "legend": {"title": null}}}},
   {"data": {"name": "violins"}, "transform": [{"filter": "datum.p == 'b1' && datum.k == 3"}], "mark": {"type": "area", "orient": "horizontal", "interpolate": "monotone", "stroke": "#3a3a3a", "strokeWidth": 1, "fillOpacity": 1}, "encoding": {"x": {"field": "w", "type": "quantitative", "stack": "center", "impute": null, "scale": {"domain": [-2.224, 0.976], "nice": false, "zero": false}, "axis": null}, "color": {"field": "g", "type": "nominal", "legend": {"title": null}}}},
   {"data": {"name": "medians"}, "transform": [{"filter": "datum.p == 'b1'"}], "mark": {"type": "point", "filled": true, "color": "#000000", "size": 7, "opacity": 1}, "encoding": {"x": {"field": "k", "type": "quantitative", "scale": {"domain": [0.4, 3.6], "nice": false, "zero": false}, "axis": null}}},
   {"data": {"name": "brackets"}, "transform": [{"filter": "datum.p == 'b1'"}], "mark": {"type": "line", "color": "#444444", "strokeWidth": 0.8}, "encoding": {"x": {"field": "x", "type": "quantitative", "scale": {"domain": [0.4, 3.6], "nice": false, "zero": false}, "axis": null}, "detail": {"field": "b", "type": "nominal"}, "order": {"field": "o", "type": "quantitative"}}},
   {"data": {"name": "stars"}, "transform": [{"filter": "datum.p == 'b1'"}], "mark": {"type": "text", "fontSize": 13, "color": "#333333", "baseline": "alphabetic", "dy": 3}, "encoding": {"x": {"field": "x", "type": "quantitative", "scale": {"domain": [0.4, 3.6], "nice": false, "zero": false}, "axis": null}, "text": {"field": "s"}}}
  ],
  "resolve": {"scale": {"x": "independent"}}},
 {"width": 200, "height": 186,
  "encoding": {"y": {"field": "v", "type": "quantitative", "scale": {"type": "log", "domain": [0.0004285, 2.366], "nice": false}, "axis": {"values": [0.001, 0.01, 0.1], "format": ".3f", "title": null, "minExtent": 42, "maxExtent": 42}}},
  "layer": [
   {"data": {"name": "violins"}, "transform": [{"filter": "datum.p == 'b2' && datum.k == 1"}], "mark": {"type": "area", "orient": "horizontal", "interpolate": "monotone", "stroke": "#3a3a3a", "strokeWidth": 1, "fillOpacity": 1}, "encoding": {"x": {"field": "w", "type": "quantitative", "stack": "center", "impute": null, "scale": {"domain": [-0.16, 3.04], "nice": false, "zero": false}, "axis": null}, "color": {"field": "g", "type": "nominal", "legend": {"title": null}}}},
   {"data": {"name": "violins"}, "transform": [{"filter": "datum.p == 'b2' && datum.k == 2"}], "mark": {"type": "area", "orient": "horizontal", "interpolate": "monotone", "stroke": "#3a3a3a", "strokeWidth": 1, "fillOpacity": 1}, "encoding": {"x": {"field": "w", "type": "quantitative", "stack": "center", "impute": null, "scale": {"domain": [-1.216, 1.984], "nice": false, "zero": false}, "axis": null}, "color": {"field": "g", "type": "nominal", "legend": {"title": null}}}},
   {"data": {"name": "violins"}, "transform": [{"filter": "datum.p == 'b2' && datum.k == 3"}], "mark": {"type": "area", "orient": "horizontal", "interpolate": "monotone", "stroke": "#3a3a3a", "strokeWidth": 1, "fillOpacity": 1}, "encoding": {"x": {"field": "w", "type": "quantitative", "stack": "center", "impute": null, "scale": {"domain": [-2.248, 0.952], "nice": false, "zero": false}, "axis": null}, "color": {"field": "g", "type": "nominal", "legend": {"title": null}}}},
   {"data": {"name": "medians"}, "transform": [{"filter": "datum.p == 'b2'"}], "mark": {"type": "point", "filled": true, "color": "#000000", "size": 7, "opacity": 1}, "encoding": {"x": {"field": "k", "type": "quantitative", "scale": {"domain": [0.4, 3.6], "nice": false, "zero": false}, "axis": null}}},
   {"data": {"name": "brackets"}, "transform": [{"filter": "datum.p == 'b2'"}], "mark": {"type": "line", "color": "#444444", "strokeWidth": 0.8}, "encoding": {"x": {"field": "x", "type": "quantitative", "scale": {"domain": [0.4, 3.6], "nice": false, "zero": false}, "axis": null}, "detail": {"field": "b", "type": "nominal"}, "order": {"field": "o", "type": "quantitative"}}},
   {"data": {"name": "stars"}, "transform": [{"filter": "datum.p == 'b2'"}], "mark": {"type": "text", "fontSize": 13, "color": "#333333", "baseline": "alphabetic", "dy": 3}, "encoding": {"x": {"field": "x", "type": "quantitative", "scale": {"domain": [0.4, 3.6], "nice": false, "zero": false}, "axis": null}, "text": {"field": "s"}}}
  ],
  "resolve": {"scale": {"x": "independent"}}},
 {"width": 200, "height": 186,
  "encoding": {"y": {"field": "v", "type": "quantitative", "scale": {"type": "log", "domain": [0.01211, 7.031], "nice": false}, "axis": {"values": [0.1, 1], "format": ".1f", "title": null, "minExtent": 27, "maxExtent": 27}}},
  "layer": [
   {"data": {"name": "violins"}, "transform": [{"filter": "datum.p == 'b3' && datum.k == 1"}], "mark": {"type": "area", "orient": "horizontal", "interpolate": "monotone", "stroke": "#3a3a3a", "strokeWidth": 1, "fillOpacity": 1}, "encoding": {"x": {"field": "w", "type": "quantitative", "stack": "center", "impute": null, "scale": {"domain": [-0.152, 3.048], "nice": false, "zero": false}, "axis": null}, "color": {"field": "g", "type": "nominal", "legend": {"title": null}}}},
   {"data": {"name": "violins"}, "transform": [{"filter": "datum.p == 'b3' && datum.k == 2"}], "mark": {"type": "area", "orient": "horizontal", "interpolate": "monotone", "stroke": "#3a3a3a", "strokeWidth": 1, "fillOpacity": 1}, "encoding": {"x": {"field": "w", "type": "quantitative", "stack": "center", "impute": null, "scale": {"domain": [-1.168, 2.032], "nice": false, "zero": false}, "axis": null}, "color": {"field": "g", "type": "nominal", "legend": {"title": null}}}},
   {"data": {"name": "violins"}, "transform": [{"filter": "datum.p == 'b3' && datum.k == 3"}], "mark": {"type": "area", "orient": "horizontal", "interpolate": "monotone", "stroke": "#3a3a3a", "strokeWidth": 1, "fillOpacity": 1}, "encoding": {"x": {"field": "w", "type": "quantitative", "stack": "center", "impute": null, "scale": {"domain": [-2.176, 1.024], "nice": false, "zero": false}, "axis": null}, "color": {"field": "g", "type": "nominal", "legend": {"title": null}}}},
   {"data": {"name": "medians"}, "transform": [{"filter": "datum.p == 'b3'"}], "mark": {"type": "point", "filled": true, "color": "#000000", "size": 7, "opacity": 1}, "encoding": {"x": {"field": "k", "type": "quantitative", "scale": {"domain": [0.4, 3.6], "nice": false, "zero": false}, "axis": null}}},
   {"data": {"name": "brackets"}, "transform": [{"filter": "datum.p == 'b3'"}], "mark": {"type": "line", "color": "#444444", "strokeWidth": 0.8}, "encoding": {"x": {"field": "x", "type": "quantitative", "scale": {"domain": [0.4, 3.6], "nice": false, "zero": false}, "axis": null}, "detail": {"field": "b", "type": "nominal"}, "order": {"field": "o", "type": "quantitative"}}},
   {"data": {"name": "stars"}, "transform": [{"filter": "datum.p == 'b3'"}], "mark": {"type": "text", "fontSize": 13, "color": "#333333", "baseline": "alphabetic", "dy": 3}, "encoding": {"x": {"field": "x", "type": "quantitative", "scale": {"domain": [0.4, 3.6], "nice": false, "zero": false}, "axis": null}, "text": {"field": "s"}}}
  ],
  "resolve": {"scale": {"x": "independent"}}}
]},
{"spacing": 10, "hconcat": [
 {"width": 200, "height": 186,
  "encoding": {"y": {"field": "v", "type": "quantitative", "scale": {"type": "log", "domain": [0.002056, 9.908], "nice": false}, "axis": {"values": [0.01, 0.1, 1], "format": ".2f", "title": "c", "titleAngle": 0, "titleX": -28, "titleY": 8.5, "titleAlign": "left", "titleBaseline": "alphabetic", "titleFontSize": 15, "titleFontWeight": "bold", "titleColor": "#000000", "minExtent": 28, "maxExtent": 28}}},
  "layer": [
   {"data": {"name": "violins"}, "transform": [{"filter": "datum.p == 'c1' && datum.k == 1"}], "mark": {"type": "area", "orient": "horizontal", "interpolate": "monotone", "stroke": "#3a3a3a", "strokeWidth": 1, "fillOpacity": 1}, "encoding": {"x": {"field": "w", "type": "quantitative", "stack": "center", "impute": null, "scale": {"domain": [-0.144, 3.056], "nice": false, "zero": false}, "axis": null}, "color": {"field": "g", "type": "nominal", "legend": {"title": null}}}},
   {"data": {"name": "violins"}, "transform": [{"filter": "datum.p == 'c1' && datum.k == 2"}], "mark": {"type": "area", "orient": "horizontal", "interpolate": "monotone", "stroke": "#3a3a3a", "strokeWidth": 1, "fillOpacity": 1}, "encoding": {"x": {"field": "w", "type": "quantitative", "stack": "center", "impute": null, "scale": {"domain": [-1.272, 1.928], "nice": false, "zero": false}, "axis": null}, "color": {"field": "g", "type": "nominal", "legend": {"title": null}}}},
   {"data": {"name": "violins"}, "transform": [{"filter": "datum.p == 'c1' && datum.k == 3"}], "mark": {"type": "area", "orient": "horizontal", "interpolate": "monotone", "stroke": "#3a3a3a", "strokeWidth": 1, "fillOpacity": 1}, "encoding": {"x": {"field": "w", "type": "quantitative", "stack": "center", "impute": null, "scale": {"domain": [-2.256, 0.944], "nice": false, "zero": false}, "axis": null}, "color": {"field": "g", "type": "nominal", "legend": {"title": null}}}},
   {"data": {"name": "medians"}, "transform": [{"filter": "datum.p == 'c1'"}], "mark": {"type": "point", "filled": true, "color": "#000000", "size": 7, "opacity": 1}, "encoding": {"x": {"field": "k", "type": "quantitative", "scale": {"domain": [0.4, 3.6], "nice": false, "zero": false}, "axis": null}}},
   {"data": {"name": "brackets"}, "transform": [{"filter": "datum.p == 'c1'"}], "mark": {"type": "line", "color": "#444444", "strokeWidth": 0.8}, "encoding": {"x": {"field": "x", "type": "quantitative", "scale": {"domain": [0.4, 3.6], "nice": false, "zero": false}, "axis": null}, "detail": {"field": "b", "type": "nominal"}, "order": {"field": "o", "type": "quantitative"}}},
   {"data": {"name": "stars"}, "transform": [{"filter": "datum.p == 'c1'"}], "mark": {"type": "text", "fontSize": 13, "color": "#333333", "baseline": "alphabetic", "dy": 3}, "encoding": {"x": {"field": "x", "type": "quantitative", "scale": {"domain": [0.4, 3.6], "nice": false, "zero": false}, "axis": null}, "text": {"field": "s"}}}
  ],
  "resolve": {"scale": {"x": "independent"}}},
 {"width": 200, "height": 186,
  "encoding": {"y": {"field": "v", "type": "quantitative", "scale": {"type": "log", "domain": [0.0004207, 2.333], "nice": false}, "axis": {"values": [0.001, 0.01, 0.1], "format": ".3f", "title": null, "minExtent": 42, "maxExtent": 42}}},
  "layer": [
   {"data": {"name": "violins"}, "transform": [{"filter": "datum.p == 'c2' && datum.k == 1"}], "mark": {"type": "area", "orient": "horizontal", "interpolate": "monotone", "stroke": "#3a3a3a", "strokeWidth": 1, "fillOpacity": 1}, "encoding": {"x": {"field": "w", "type": "quantitative", "stack": "center", "impute": null, "scale": {"domain": [-0.16, 3.04], "nice": false, "zero": false}, "axis": null}, "color": {"field": "g", "type": "nominal", "legend": {"title": null}}}},
   {"data": {"name": "violins"}, "transform": [{"filter": "datum.p == 'c2' && datum.k == 2"}], "mark": {"type": "area", "orient": "horizontal", "interpolate": "monotone", "stroke": "#3a3a3a", "strokeWidth": 1, "fillOpacity": 1}, "encoding": {"x": {"field": "w", "type": "quantitative", "stack": "center", "impute": null, "scale": {"domain": [-1.248, 1.952], "nice": false, "zero": false}, "axis": null}, "color": {"field": "g", "type": "nominal", "legend": {"title": null}}}},
   {"data": {"name": "violins"}, "transform": [{"filter": "datum.p == 'c2' && datum.k == 3"}], "mark": {"type": "area", "orient": "horizontal", "interpolate": "monotone", "stroke": "#3a3a3a", "strokeWidth": 1, "fillOpacity": 1}, "encoding": {"x": {"field": "w", "type": "quantitative", "stack": "center", "impute": null, "scale": {"domain": [-2.28, 0.92], "nice": false, "zero": false}, "axis": null}, "color": {"field": "g", "type": "nominal", "legend": {"title": null}}}},
   {"data": {"name": "medians"}, "transform": [{"filter": "datum.p == 'c2'"}], "mark": {"type": "point", "filled": true, "color": "#000000", "size": 7, "opacity": 1}, "encoding": {"x": {"field": "k", "type": "quantitative", "scale": {"domain": [0.4, 3.6], "nice": false, "zero": false}, "axis": null}}},
   {"data": {"name": "brackets"}, "transform": [{"filter": "datum.p == 'c2'"}], "mark": {"type": "line", "color": "#444444", "strokeWidth": 0.8}, "encoding": {"x": {"field": "x", "type": "quantitative", "scale": {"domain": [0.4, 3.6], "nice": false, "zero": false}, "axis": null}, "detail": {"field": "b", "type": "nominal"}, "order": {"field": "o", "type": "quantitative"}}},
   {"data": {"name": "stars"}, "transform": [{"filter": "datum.p == 'c2'"}], "mark": {"type": "text", "fontSize": 13, "color": "#333333", "baseline": "alphabetic", "dy": 3}, "encoding": {"x": {"field": "x", "type": "quantitative", "scale": {"domain": [0.4, 3.6], "nice": false, "zero": false}, "axis": null}, "text": {"field": "s"}}}
  ],
  "resolve": {"scale": {"x": "independent"}}},
 {"width": 200, "height": 186,
  "encoding": {"y": {"field": "v", "type": "quantitative", "scale": {"type": "log", "domain": [0.02655, 0.8166], "nice": false}, "axis": {"values": [0.1], "format": ".1f", "title": null, "minExtent": 27, "maxExtent": 27}}},
  "layer": [
   {"data": {"name": "violins"}, "transform": [{"filter": "datum.p == 'c3' && datum.k == 1"}], "mark": {"type": "area", "orient": "horizontal", "interpolate": "monotone", "stroke": "#3a3a3a", "strokeWidth": 1, "fillOpacity": 1}, "encoding": {"x": {"field": "w", "type": "quantitative", "stack": "center", "impute": null, "scale": {"domain": [-0.176, 3.024], "nice": false, "zero": false}, "axis": null}, "color": {"field": "g", "type": "nominal", "legend": {"title": null}}}},
   {"data": {"name": "violins"}, "transform": [{"filter": "datum.p == 'c3' && datum.k == 2"}], "mark": {"type": "area", "orient": "horizontal", "interpolate": "monotone", "stroke": "#3a3a3a", "strokeWidth": 1, "fillOpacity": 1}, "encoding": {"x": {"field": "w", "type": "quantitative", "stack": "center", "impute": null, "scale": {"domain": [-1.152, 2.048], "nice": false, "zero": false}, "axis": null}, "color": {"field": "g", "type": "nominal", "legend": {"title": null}}}},
   {"data": {"name": "violins"}, "transform": [{"filter": "datum.p == 'c3' && datum.k == 3"}], "mark": {"type": "area", "orient": "horizontal", "interpolate": "monotone", "stroke": "#3a3a3a", "strokeWidth": 1, "fillOpacity": 1}, "encoding": {"x": {"field": "w", "type": "quantitative", "stack": "center", "impute": null, "scale": {"domain": [-2.192, 1.008], "nice": false, "zero": false}, "axis": null}, "color": {"field": "g", "type": "nominal", "legend": {"title": null}}}},
   {"data": {"name": "medians"}, "transform": [{"filter": "datum.p == 'c3'"}], "mark": {"type": "point", "filled": true, "color": "#000000", "size": 7, "opacity": 1}, "encoding": {"x": {"field": "k", "type": "quantitative", "scale": {"domain": [0.4, 3.6], "nice": false, "zero": false}, "axis": null}}},
   {"data": {"name": "brackets"}, "transform": [{"filter": "datum.p == 'c3'"}], "mark": {"type": "line", "color": "#444444", "strokeWidth": 0.8}, "encoding": {"x": {"field": "x", "type": "quantitative", "scale": {"domain": [0.4, 3.6], "nice": false, "zero": false}, "axis": null}, "detail": {"field": "b", "type": "nominal"}, "order": {"field": "o", "type": "quantitative"}}},
   {"data": {"name": "stars"}, "transform": [{"filter": "datum.p == 'c3'"}], "mark": {"type": "text", "fontSize": 13, "color": "#333333", "baseline": "alphabetic", "dy": 3}, "encoding": {"x": {"field": "x", "type": "quantitative", "scale": {"domain": [0.4, 3.6], "nice": false, "zero": false}, "axis": null}, "text": {"field": "s"}}}
  ],
  "resolve": {"scale": {"x": "independent"}}}
]}
]
}
